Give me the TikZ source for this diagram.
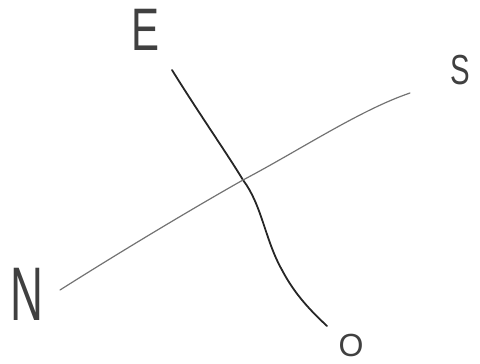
\documentclass[tikz,border=0pt]{standalone}
\usepackage{fontspec}
\setmainfont{Liberation Sans}
\begin{document}
\begin{tikzpicture}[x=1pt,y=-1pt,
  letter/.style={inner sep=0pt,text=black!75},
  eoline/.style={draw=black!85,line width=1.8pt,line cap=round},
  nsline/.style={draw=black!55,line width=1.2pt,line cap=round}]
\useasboundingbox (0,0) rectangle (480,364);
\node[letter,anchor=base,font=\fontsize{60}{60}\selectfont,xscale=0.7] (E) at (146,50) {E};
\node[letter,anchor=base,font=\fontsize{42}{42}\selectfont,xscale=0.7] (S) at (460,84) {S};
\node[letter,anchor=base,font=\fontsize{76}{76}\selectfont,xscale=0.6] (N) at (27,320) {N};
\node[letter,anchor=base,font=\fontsize{32}{32}\selectfont,xscale=1.0] (O) at (351,356) {O};
\coordinate (e1) at (172,70);
\coordinate (x) at (243,180);
\coordinate (o1) at (327,326);
\coordinate (n1) at (60,290);
\coordinate (s1) at (410,93);
\draw[eoline] (e1) .. controls (200,115) and (228,155) .. (x)
  .. controls (262,205) and (265,240) .. (282,270)
  .. controls (295,295) and (312,312) .. (o1);
\draw[nsline] (n1) .. controls (120,252) and (190,210) .. (x)
  .. controls (300,150) and (360,110) .. (s1);
\end{tikzpicture}
\end{document}
